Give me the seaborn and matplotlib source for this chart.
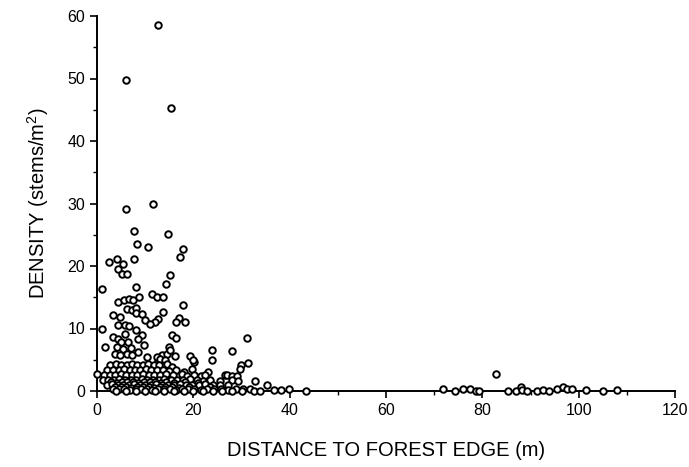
import matplotlib
matplotlib.use("Agg")
import matplotlib.pyplot as plt
import seaborn as sns
import pandas as pd
from matplotlib.ticker import MultipleLocator

# ---- data (distance m, density stems/m^2) ----
high_x = [12.7, 6.0, 15.4, 6.0, 11.6, 7.7, 14.7, 8.3, 10.6, 17.9, 17.3, 2.5, 4.1, 5.5,
          4.3, 5.1, 6.3, 7.7, 15.2, 14.3, 8.2, 1.0]
high_y = [58.6, 49.8, 45.3, 29.1, 30.0, 25.6, 25.1, 23.6, 23.1, 22.7, 21.5, 20.7, 21.1, 20.3,
          19.5, 18.7, 18.7, 21.1, 18.6, 17.1, 16.7, 16.4]

mid_x = [11.4, 12.4, 13.8, 4.4, 5.7, 6.7, 7.5, 8.8, 6.2, 7.3, 8.2, 3.4, 4.8, 8.2, 9.3,
         10.0, 12.7, 12.0, 11.0, 1.0, 4.4, 5.8, 6.7, 8.2, 9.3, 3.4, 4.3, 5.8, 5.0, 6.5,
         8.6, 1.7, 4.1, 5.5, 7.1, 9.8, 3.7, 4.8, 6.2, 7.2, 8.6, 10.3, 13.4, 12.7,
         17.8, 13.8, 17.1, 16.5, 18.3, 15.5, 16.3, 15.0, 14.5, 16.2, 19.3, 23.8, 23.8,
         20.2, 15.2, 12.4, 13.1, 31.1, 28.1, 31.3, 20.0, 14.1]
mid_y = [15.5, 15.1, 15.1, 14.3, 14.6, 14.7, 14.5, 15.1, 13.2, 13.0, 13.3, 12.2, 11.9, 12.5, 12.4,
         11.4, 11.6, 11.1, 10.7, 9.9, 10.6, 10.6, 10.4, 9.8, 9.0, 8.7, 8.4, 9.2, 7.8, 7.9,
         8.4, 7.1, 7.1, 6.8, 6.9, 7.4, 6.0, 5.8, 6.0, 5.8, 6.3, 5.5, 5.8, 5.0,
         13.8, 12.7, 11.7, 11.1, 11.1, 9.0, 8.5, 7.1, 6.0, 5.6, 5.6, 6.6, 5.0,
         4.6, 6.6, 5.5, 5.2, 8.5, 6.4, 4.5, 5.0, 5.0]

row42_x = [2.8, 4.0, 5.0, 6.2, 7.3, 8.4, 9.5, 10.6, 11.8, 12.9, 14.5, 15.5, 29.9, 19.8]
row42_y = [4.2, 4.3, 4.1, 4.2, 4.3, 4.1, 4.2, 4.3, 4.1, 4.2, 4.4, 3.9, 4.2, 3.6]
row34_x = [0.0, 2.0, 3.3, 4.5, 5.6, 6.8, 7.9, 9.0, 10.1, 11.3, 12.4, 13.6, 15.0, 16.5, 18.0,
           23.1, 29.7]
row34_y = [2.7, 3.4, 3.4, 3.3, 3.5, 3.4, 3.3, 3.4, 3.5, 3.4, 3.3, 3.4, 3.2, 3.4, 3.1,
           3.0, 3.6]
row26_x = [1.5, 2.6, 3.8, 5.0, 6.1, 7.3, 8.4, 9.6, 10.8, 11.9, 13.1, 14.4, 15.7, 17.6, 18.6,
           20.1, 21.5, 22.4, 26.6, 26.9, 28.0, 29.0]
row26_y = [2.6, 2.5, 2.6, 2.7, 2.6, 2.5, 2.6, 2.7, 2.6, 2.5, 2.6, 2.7, 2.5, 2.8, 2.4,
           2.6, 2.4, 2.6, 2.6, 2.6, 2.4, 2.4]
row18_x = [1.2, 2.3, 3.5, 4.6, 5.8, 7.0, 8.1, 9.3, 10.4, 11.6, 12.8, 14.0, 15.3, 16.6, 17.9,
           19.3, 20.7, 22.0, 23.4, 25.5, 28.0, 29.2, 32.7]
row18_y = [1.8, 1.7, 1.8, 1.9, 1.8, 1.7, 1.8, 1.9, 1.8, 1.7, 1.8, 1.9, 1.7, 1.8, 1.7,
           1.9, 1.8, 1.6, 1.8, 1.6, 1.8, 1.6, 1.6]
row14_x = [3.0, 4.1, 5.2, 6.3, 7.5, 8.6, 9.8, 10.9, 12.1, 13.2, 14.4, 16.0, 18.2, 21.0]
row14_y = [1.4, 1.3, 1.4, 1.5, 1.4, 1.3, 1.4, 1.5, 1.4, 1.3, 1.4, 1.3, 1.4, 1.3]
row10_x = [2.0, 3.1, 4.3, 5.4, 6.6, 7.7, 8.9, 10.0, 11.2, 12.3, 13.5, 14.7, 15.9, 17.2, 18.5,
           19.8, 21.1, 22.5, 24.0, 25.6, 27.2, 35.2]
row10_y = [1.0, 1.1, 1.0, 0.9, 1.0, 1.1, 1.0, 0.9, 1.0, 1.1, 1.0, 0.9, 1.0, 1.1, 1.0,
           0.9, 1.0, 1.1, 1.0, 0.9, 1.0, 1.0]
row06_x = [3.8, 4.9, 6.0, 7.1, 8.3, 9.5, 10.7, 11.9, 13.0, 14.2, 15.6, 17.0, 19.0, 23.5]
row06_y = [0.6, 0.7, 0.6, 0.5, 0.6, 0.7, 0.6, 0.5, 0.6, 0.7, 0.6, 0.5, 0.6, 0.6]
row03_x = [3.3, 4.5, 5.7, 6.9, 8.0, 9.2, 10.4, 11.5, 12.7, 13.9, 15.1, 16.3, 17.6, 18.9, 20.2,
           21.5, 22.9, 24.3, 25.8, 27.3, 28.8, 30.3, 31.8, 36.8, 38.3, 39.9]
row03_y = [0.3, 0.4, 0.3, 0.2, 0.3, 0.4, 0.3, 0.2, 0.3, 0.4, 0.3, 0.2, 0.3, 0.4, 0.3,
           0.2, 0.3, 0.4, 0.3, 0.2, 0.3, 0.4, 0.4, 0.2, 0.2, 0.4]
row00_x = [4.0, 6.0, 8.0, 10.0, 12.0, 14.0, 16.0, 18.0, 20.0, 22.0, 24.0, 26.0, 28.0, 30.0,
           32.5, 33.8, 43.4]
row00_y = [0.0] * 17

far_x = [71.8, 74.3, 76.0, 77.4, 78.7, 79.4, 82.8, 85.4, 87.0, 88.0, 88.2, 89.2, 91.3, 92.5,
         93.9, 95.4, 96.8, 97.5, 98.7, 101.5, 105.1, 107.9]
far_y = [0.3, 0.0, 0.4, 0.3, 0.0, 0.0, 2.7, 0.0, 0.0, 0.7, 0.2, 0.0, 0.0, 0.2,
         0.0, 0.3, 0.7, 0.4, 0.3, 0.2, 0.0, 0.2]

xs = (high_x + mid_x + row42_x + row34_x + row26_x + row18_x + row14_x + row10_x + row06_x
      + row03_x + row00_x + far_x)
ys = (high_y + mid_y + row42_y + row34_y + row26_y + row18_y + row14_y + row10_y + row06_y
      + row03_y + row00_y + far_y)
df = pd.DataFrame({"distance": xs, "density": ys})

x_ticks = [0, 20, 40, 60, 80, 100, 120]
y_ticks = [0, 10, 20, 30, 40, 50, 60]

sns.set_style("ticks")
plt.rcParams["font.family"] = ["Liberation Sans", "DejaVu Sans"]
plt.rcParams["mathtext.fontset"] = "custom"
plt.rcParams["mathtext.rm"] = "Liberation Sans"
plt.rcParams["text.color"] = "black"
plt.rcParams["axes.labelcolor"] = "black"

fig = plt.figure(figsize=(6.89, 4.67), dpi=100)
ax = fig.add_axes([97 / 689, 1 - 391 / 467, (675 - 97) / 689, (391 - 16) / 467])

sns.scatterplot(data=df, x="distance", y="density", ax=ax, s=22, marker="o",
                facecolor="white", edgecolor="black", linewidth=1.4, clip_on=False,
                zorder=5, legend=False)

ax.set_xlim(0, 120)
ax.set_ylim(0, 60)
ax.set_xticks(x_ticks)
ax.set_yticks(y_ticks)
ax.xaxis.set_minor_locator(MultipleLocator(10))
ax.yaxis.set_minor_locator(MultipleLocator(5))
ax.tick_params(which="major", direction="out", length=5, width=1.2, labelsize=11.5,
               colors="black", labelcolor="black")
ax.tick_params(which="minor", direction="out", length=3, width=1.0, colors="black")
sns.despine(ax=ax)
for s in ["left", "bottom"]:
    ax.spines[s].set_linewidth(1.4)
    ax.spines[s].set_color("black")

ax.set_xlabel("DISTANCE TO FOREST EDGE (m)", fontsize=14.5, labelpad=17, color="black")
ax.set_ylabel(r"DENSITY (stems/m$^{2}$)", fontsize=14.5, labelpad=12, color="black")

fig.savefig("out.png", dpi=100, facecolor="white")
